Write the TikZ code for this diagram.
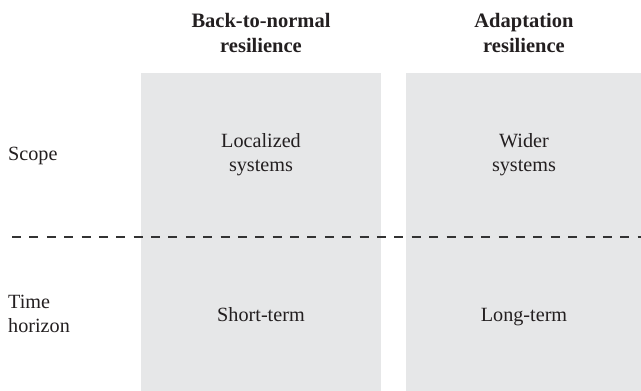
\documentclass[tikz,border=0pt]{standalone}
\usepackage{fontspec}
\setmainfont{Liberation Serif}
\definecolor{panelgrey}{HTML}{E6E7E8}
\definecolor{inkgrey}{HTML}{231F20}
\definecolor{dashgrey}{HTML}{333333}
\tikzset{
  panel/.style={fill=panelgrey, draw=none, inner sep=0pt, outer sep=0pt},
  txt/.style={text=inkgrey, font=\fontsize{20.2}{24}\selectfont, inner sep=0pt, align=center},
  head/.style={txt, font=\fontsize{20.5}{25}\selectfont\bfseries},
  sidelab/.style={txt, align=left, anchor=west},
  divider/.style={draw=dashgrey, line width=2.2pt, dash pattern=on 9pt off 8.38pt}
}
\begin{document}
\begin{tikzpicture}[x=1pt,y=-1pt]
\useasboundingbox (0,0) rectangle (641,391);
% panels
\node[panel, minimum width=240pt, minimum height=318pt] (pleft) at (261,232) {};
\node[panel, minimum width=235pt, minimum height=318pt] (pright) at (523.5,232) {};
% column headers
\node[head] (hleft) at (261,32.7) {Back-to-normal\\resilience};
\node[head] (hright) at (524,32.7) {Adaptation\\resilience};
% row labels
\node[sidelab] (scope) at (8,156) {Scope};
\node[sidelab] (time) at (8,314) {Time\\horizon};
% cell texts
\node[txt] (loc) at (261,155) {Localized\\systems};
\node[txt] (wid) at (524,155) {Wider\\systems};
\node[txt, anchor=base] (short) at (261,321) {Short-term};
\node[txt, anchor=base] (long) at (524,321) {Long-term};
% dashed divider
\coordinate (dstart) at (12,237);
\coordinate (dend) at (641,237);
\draw[divider] (dstart) -- (dend);
\end{tikzpicture}
\end{document}
